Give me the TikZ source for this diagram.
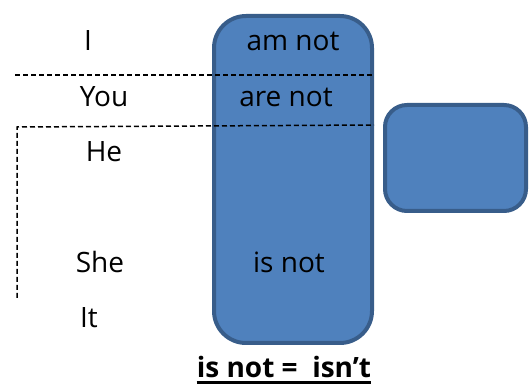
\documentclass[tikz,border=0pt]{standalone}
\usepackage{fontspec}
\setmainfont{Open Sans}
\usepackage{tikz}
\usetikzlibrary{arrows}

\definecolor{boxfill}{HTML}{4F81BD}
\definecolor{boxline}{HTML}{385D8A}

\begin{document}
\begin{tikzpicture}
			[x=1pt,y=-1pt,every node/.style={font=\fontsize{28}{30}\selectfont,inner sep=0pt},
			 verbbox/.style={draw=boxline,fill=boxfill,line width=4pt,rounded corners=32pt},
			 split/.style={dashed,line width=1.5pt,dash pattern=on 5pt off 3pt}]
			\useasboundingbox (0,0) rectangle (531,385);
			\node[verbbox,minimum width=158pt,minimum height=327pt] (col) at (293,179.5) {};
			\node[verbbox,rounded corners=22pt,minimum width=141pt,minimum height=106pt] (side) at (455.5,158) {};
			
			\coordinate (d1) at (15,75);
			\coordinate (d2) at (17,127);
			\coordinate (d3) at (17,298);
			\draw[split] (d1) -- (d1 -| col.east);
			\draw[split] (d3) -- (d2) -- (col.east |- 0,125);
			
			\node (i) at (88,41) {I};
			\node (you) at (104,97) {You};
			\node (he) at (104,152) {He};
			\node (she) at (100,262) {She};
			\node (it) at (89,318) {It};
			
			\node (am) at (293,41) {am not};
			\node (are) at (286,97) {are not};
			\node (is) at (289,262) {is not};
			
			% underlined rule at the bottom
			\node[font=\fontsize{28}{30}\selectfont\bfseries] (rule) at (284,367) {is not =\ \ isn’t};
			\draw[line width=2.5pt] ([yshift=-5pt]rule.base west) -- ([yshift=-5pt]rule.base east);
			\end{tikzpicture}
\end{document}
